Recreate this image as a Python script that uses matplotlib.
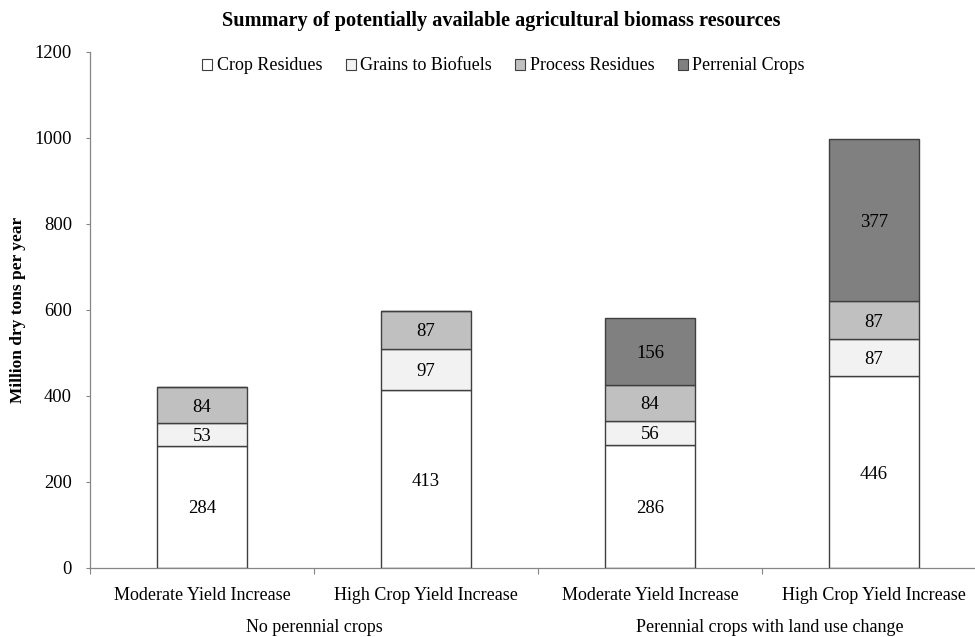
import matplotlib
matplotlib.use("Agg")
import matplotlib.pyplot as plt
from matplotlib.patches import Patch
import numpy as np

plt.rcParams['font.family'] = ['Liberation Serif', 'DejaVu Serif']

scenarios = ["Moderate Yield Increase", "High Crop Yield Increase",
             "Moderate Yield Increase", "High Crop Yield Increase"]
groups = ["No perennial crops", "Perennial crops with land use change"]
series_names = ["Crop Residues", "Grains to Biofuels", "Process Residues", "Perrenial Crops"]
crop_residues = [284, 413, 286, 446]
grains_to_biofuels = [53, 97, 56, 87]
process_residues = [84, 87, 84, 87]
perennial_crops = [0, 0, 156, 377]
y_ticks = [0, 200, 400, 600, 800, 1000, 1200]

series = [crop_residues, grains_to_biofuels, process_residues, perennial_crops]
colors = ["#ffffff", "#f2f2f2", "#c0c0c0", "#808080"]
edge = "#3f3f3f"
axis_col = "#868686"

fig = plt.figure(figsize=(9.75, 6.37), dpi=100)
W, H = 975, 637
left, right, bottom, top = 90, 986, 568, 52
ax = fig.add_axes([left / W, (H - bottom) / H, (right - left) / W, (bottom - top) / H])

x = np.arange(len(scenarios))
base = np.zeros(len(scenarios))
for vals, col, name in zip(series, colors, series_names):
    vals = np.array(vals, dtype=float)
    ax.bar(x, vals, width=0.403, bottom=base, color=col, edgecolor=edge,
           linewidth=1.0, label=name)
    for xi, b, v in zip(x, base, vals):
        if v > 0:
            ax.text(xi, b + v / 2, f"{int(v)}", ha="center", va="center_baseline",
                    fontsize=13.5, color="black")
    base += vals

ax.set_xlim(-0.5, 3.5)
ax.set_ylim(0, 1200)
ax.set_yticks(y_ticks)
ax.set_yticklabels([str(t) for t in y_ticks], fontsize=13.3)
ax.tick_params(axis="y", direction="out", length=3, width=0.8, color=axis_col, pad=10)

# category separators as ticks on the x axis
ax.set_xticks([-0.5, 0.5, 1.5, 2.5, 3.5])
ax.set_xticklabels([])
ax.tick_params(axis="x", direction="out", length=4, width=0.8, color=axis_col)

for s in ["top", "right"]:
    ax.spines[s].set_visible(False)
for s in ["left", "bottom"]:
    ax.spines[s].set_color(axis_col)
    ax.spines[s].set_linewidth(0.9)

xform = ax.get_xaxis_transform()
for xi, lab in zip(x, scenarios):
    ax.text(xi, -32 / (bottom - top), lab, transform=xform, ha="center",
            va="baseline", fontsize=13)
for gi, g in enumerate(groups):
    gx = 0.5 + 2 * gi + 0.036 * gi
    ax.text(gx, -64 / (bottom - top), g, transform=xform, ha="center",
            va="baseline", fontsize=13)

ax.set_ylabel("Million dry tons per year", fontsize=12.5, fontweight="bold")
ax.yaxis.set_label_coords(-64 / (right - left), 0.5)

fig.text(501.5 / W, 1 - 26 / H,
         "Summary of potentially available agricultural biomass resources",
         ha="center", va="baseline", fontsize=14.6, fontweight="bold")

handles = [Patch(facecolor=c, edgecolor=edge, linewidth=0.8) for c in colors]
ax.legend(handles, series_names, loc="center", bbox_to_anchor=(503.5 / W, 1 - 66 / H),
          bbox_transform=fig.transFigure, ncol=4, frameon=False, fontsize=13,
          handlelength=0.55, handleheight=0.55, handletextpad=0.25, columnspacing=1.3)

fig.savefig("out.png", dpi=100)
